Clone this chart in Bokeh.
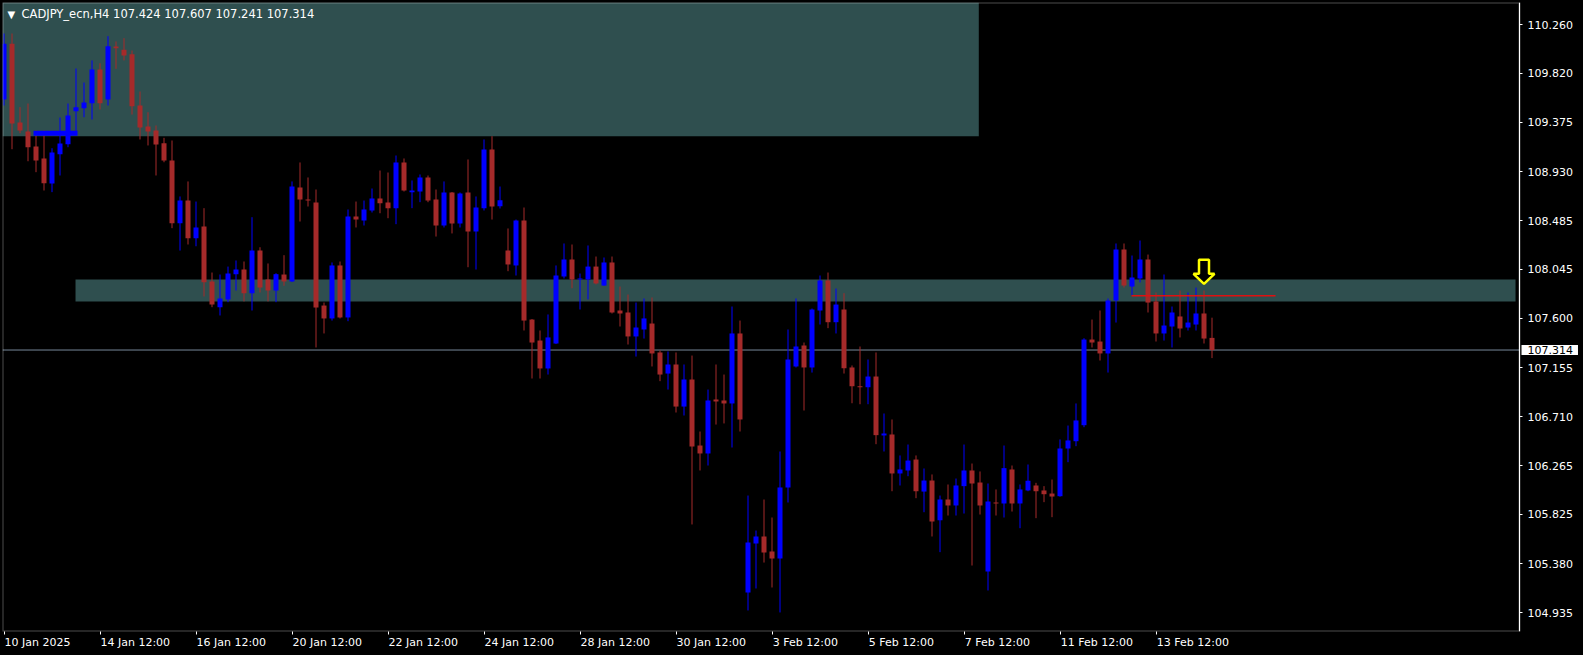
import numpy as np
from bokeh.plotting import figure
from bokeh.models import (ColumnDataSource, FixedTicker, Range1d, Label, BoxAnnotation,
                          PrintfTickFormatter, GlobalInlineStyleSheet, LinearAxis)
from bokeh.embed import file_html
from bokeh.resources import INLINE

# ---------------- data ----------------
symbol = "CADJPY_ecn,H4"

opens = [109.583, 110.088, 109.375, 109.293, 109.158, 109.049, 108.822, 109.088, 109.178, 109.477,
         109.505, 109.550, 109.855, 109.583, 110.063, 110.033, 109.994, 109.529, 109.339, 109.302,
         109.187, 109.031, 108.463, 108.668, 108.327, 108.433, 107.935, 107.702, 107.772, 108.001,
         108.043, 107.829, 108.215, 107.953, 107.853, 107.998, 107.935, 108.786, 108.677, 108.650,
         107.717, 107.600, 108.080, 107.609, 108.524, 108.487, 108.578, 108.687, 108.650, 108.599,
         109.013, 108.744, 108.750, 108.877, 108.677, 108.442, 108.741, 108.460, 108.741, 108.388,
         108.599, 109.130, 108.617, 108.215, 108.080, 108.487, 107.590, 107.400, 107.147, 107.373,
         107.980, 108.134, 107.953, 107.953, 108.070, 107.898, 108.107, 107.672, 107.654, 107.437,
         107.500, 107.554, 107.292, 107.101, 107.183, 106.802, 107.047, 106.449, 106.377, 106.866,
         106.857, 106.830, 107.464, 105.118, 105.562, 105.625, 105.489, 105.426, 106.069, 107.165,
         107.355, 107.156, 107.672, 107.944, 107.566, 107.681, 107.156, 106.986, 106.977, 107.074,
         106.540, 106.549, 106.196, 106.223, 106.322, 106.032, 106.132, 105.773, 105.960, 105.906,
         106.081, 106.223, 106.114, 105.308, 105.933, 105.924, 106.232, 105.924, 106.042, 106.087,
         106.042, 106.014, 105.990, 106.422, 106.488, 106.633, 107.409, 107.391, 107.283, 107.763,
         108.225, 107.889, 107.962, 108.134, 107.754, 107.464, 107.527, 107.618, 107.518, 107.545,
         107.645, 107.424]
highs = [110.181, 110.181, 109.514, 109.547, 109.302, 109.302, 109.142, 109.420, 109.547, 109.864,
         109.737, 109.937, 109.912, 110.157, 110.109, 110.139, 110.027, 109.656, 109.468, 109.348,
         109.236, 109.212, 108.705, 108.841, 108.659, 108.599, 108.016, 107.998, 108.070, 108.125,
         108.116, 108.517, 108.245, 108.098, 108.010, 108.173, 108.841, 109.013, 108.877, 108.768,
         107.744, 108.107, 108.116, 108.587, 108.659, 108.668, 108.777, 108.940, 108.922, 109.076,
         109.049, 108.850, 108.904, 108.895, 108.768, 108.841, 108.745, 108.741, 109.040, 108.705,
         109.221, 109.251, 108.795, 108.415, 108.496, 108.605, 107.595, 107.491, 107.636, 108.080,
         108.279, 108.270, 108.007, 108.261, 108.161, 108.152, 108.161, 107.889, 107.817, 107.744,
         107.781, 107.790, 107.310, 107.301, 107.292, 107.183, 107.264, 106.576, 106.956, 107.183,
         107.092, 107.708, 107.581, 105.996, 105.679, 105.960, 105.797, 106.395, 107.500, 107.781,
         107.382, 107.690, 107.989, 108.016, 107.871, 107.829, 107.174, 107.346, 107.228, 107.292,
         106.739, 106.685, 106.359, 106.458, 106.359, 106.241, 106.187, 105.996, 106.096, 106.150,
         106.458, 106.286, 106.214, 106.105, 106.051, 106.449, 106.268, 106.096, 106.277, 106.111,
         106.081, 106.141, 106.504, 106.630, 106.830, 107.421, 107.590, 107.672, 107.781, 108.279,
         108.279, 108.170, 108.306, 108.179, 107.835, 107.998, 107.708, 107.853, 107.835, 107.880,
         107.853, 107.607]
lows = [109.529, 109.133, 109.278, 109.024, 108.925, 108.759, 108.744, 108.895, 109.151, 109.287,
        109.423, 109.402, 109.493, 109.529, 109.861, 109.937, 109.447, 109.221, 109.167, 108.895,
        109.015, 108.418, 108.215, 108.270, 108.254, 107.799, 107.702, 107.627, 107.747, 107.853,
        107.754, 107.672, 107.835, 107.754, 107.747, 107.896, 107.930, 108.478, 108.614, 107.337,
        107.464, 107.581, 107.600, 107.575, 108.424, 108.442, 108.560, 108.553, 108.508, 108.454,
        108.750, 108.599, 108.653, 108.653, 108.342, 108.424, 108.370, 108.424, 108.064, 108.043,
        108.578, 108.496, 108.596, 108.028, 107.989, 107.491, 107.056, 107.056, 107.092, 107.368,
        107.962, 107.874, 107.681, 107.772, 107.908, 107.895, 107.645, 107.527, 107.364, 107.255,
        107.418, 107.165, 107.032, 106.956, 106.748, 106.721, 105.734, 106.223, 106.268, 106.639,
        106.649, 106.431, 106.576, 104.955, 105.154, 105.389, 105.163, 104.937, 105.933, 107.156,
        106.766, 107.110, 107.545, 107.512, 107.464, 107.101, 106.832, 106.823, 106.823, 106.461,
        106.395, 106.035, 106.087, 106.171, 105.972, 105.845, 105.625, 105.483, 105.815, 105.815,
        105.833, 105.362, 105.824, 105.136, 105.815, 105.797, 105.851, 105.700, 106.035, 105.791,
        105.936, 105.800, 105.985, 106.298, 106.443, 106.615, 107.337, 107.219, 107.110, 107.563,
        107.880, 107.808, 107.926, 107.654, 107.391, 107.400, 107.337, 107.428, 107.491, 107.491,
        107.373, 107.241]
closes = [110.088, 109.366, 109.302, 109.151, 109.031, 108.825, 109.103, 109.185, 109.438, 109.514,
          109.556, 109.855, 109.550, 110.066, 110.048, 109.982, 109.523, 109.330, 109.293, 109.176,
          109.031, 108.463, 108.668, 108.327, 108.424, 107.928, 107.726, 107.781, 108.007, 108.043,
          107.829, 108.215, 107.880, 107.853, 108.001, 107.935, 108.795, 108.677, 108.668, 107.699,
          107.600, 108.080, 107.609, 108.524, 108.496, 108.587, 108.687, 108.644, 108.599, 109.013,
          108.759, 108.759, 108.877, 108.668, 108.442, 108.741, 108.460, 108.732, 108.388, 108.605,
          109.130, 108.614, 108.671, 108.089, 108.487, 107.581, 107.382, 107.147, 107.428, 107.989,
          108.134, 107.953, 107.962, 108.070, 107.917, 108.107, 107.654, 107.645, 107.437, 107.518,
          107.600, 107.283, 107.092, 107.183, 106.802, 107.047, 106.440, 106.377, 106.857, 106.848,
          106.830, 107.464, 106.685, 105.571, 105.625, 105.480, 105.426, 106.069, 107.228, 107.346,
          107.156, 107.681, 107.944, 107.566, 107.726, 107.149, 106.986, 106.977, 107.074, 106.543,
          106.558, 106.196, 106.232, 106.313, 106.035, 106.132, 105.761, 105.960, 105.906, 106.087,
          106.223, 106.105, 105.906, 105.942, 105.924, 106.244, 105.924, 106.051, 106.130, 106.035,
          106.008, 105.987, 106.422, 106.495, 106.676, 107.409, 107.382, 107.283, 107.763, 108.225,
          107.898, 107.971, 108.134, 107.744, 107.464, 107.536, 107.654, 107.509, 107.563, 107.645,
          107.418, 107.314]

date_ticks = [0, 12, 24, 36, 48, 60, 72, 84, 96, 108, 120, 132, 144]
date_labels = ["10 Jan 2025", "14 Jan 12:00", "16 Jan 12:00", "20 Jan 12:00", "22 Jan 12:00",
               "24 Jan 12:00", "28 Jan 12:00", "30 Jan 12:00", "3 Feb 12:00", "5 Feb 12:00",
               "7 Feb 12:00", "11 Feb 12:00", "13 Feb 12:00"]
price_ticks = [110.260, 109.820, 109.375, 108.930, 108.485, 108.045, 107.600,
               107.155, 106.710, 106.265, 105.825, 105.380, 104.935]

# drawn objects (price levels / bar positions)
supply_zone_bottom = 109.251
supply_zone_end_bar = 121.85
level_zone_low, level_zone_high = 107.754, 107.953
level_zone_bars = [8.94, 188.94]
trend_line_price = 107.805
trend_line_bars = [140.94, 158.94]
marker_line_price = 109.277
marker_line_bars = [3.69, 9.19]
arrow_bar, arrow_tip_price = 150, 107.914

# ---------------- layout constants ----------------
W, H = 1578, 652
LEFT, TOP = 2, 2
CHART_W = 1517                      # price chart area (left of the price scale)
FRAME_W, FRAME_H = W - LEFT, 629    # drawing frame also holds the price scale
BOTTOM = H - TOP - FRAME_H
PX_PER_BAR = 8.0
X_START = -0.1875
X_END = X_START + FRAME_W / PX_PER_BAR
X_SCALE = X_START + CHART_W / PX_PER_BAR      # where the price scale sits
PX_PER_PRICE = 110.4
Y_TOP = 110.4619
Y_BOT = Y_TOP - FRAME_H / PX_PER_PRICE

FONT = "DejaVu Sans"
BULL, BEAR = "#0000FF", "#A52A2A"
ZONE = "#2F4F4F"

p = figure(width=W, height=H, output_backend="svg", toolbar_location=None,
           x_range=Range1d(X_START, X_END), y_range=Range1d(Y_BOT, Y_TOP),
           y_axis_location=None, min_border_left=LEFT, min_border_top=TOP,
           min_border_right=0, min_border_bottom=BOTTOM)
p.stylesheets = [GlobalInlineStyleSheet(css="body { background: #000000; }")]
p.background_fill_color = "black"
p.border_fill_color = "black"
p.outline_line_color = None
p.grid.visible = False

# zones
p.add_layout(BoxAnnotation(bottom=supply_zone_bottom, right=supply_zone_end_bar,
                           fill_color=ZONE, fill_alpha=1, line_color=None, level="underlay"))
p.add_layout(BoxAnnotation(bottom=level_zone_low, top=level_zone_high,
                           left=level_zone_bars[0], right=level_zone_bars[1],
                           fill_color=ZONE, fill_alpha=1, line_color=None, level="underlay"))
# last price line across the chart area
p.line([X_START, X_SCALE], [closes[-1]] * 2, line_color="#778899", line_width=1)

# candles
o = np.array(opens); h = np.array(highs); l = np.array(lows); c = np.array(closes)
idx = np.arange(len(o))
top = np.maximum(o, c)
bot = np.minimum(np.minimum(o, c), top - 1.0 / PX_PER_PRICE)
bull = c >= o
for mask, col in ((bull, BULL), (~bull, BEAR)):
    src = ColumnDataSource(dict(x=idx[mask], h=h[mask], l=l[mask], t=top[mask], b=bot[mask]))
    p.segment(x0="x", y0="l", x1="x", y1="h", source=src, line_color=col, line_width=1)
    p.vbar(x="x", width=5 / PX_PER_BAR, top="t", bottom="b", source=src,
           fill_color=col, line_color=None)

# lines
p.line(marker_line_bars, [marker_line_price] * 2, line_color=BULL, line_width=5)
p.line(trend_line_bars, [trend_line_price] * 2, line_color="#E01010", line_width=1.5)

# arrow (shape offsets in pixels relative to its tip)
shape = [(0, 0), (-10.5, 10), (-5, 10), (-5, 24), (5, 24), (5, 10), (10.5, 10)]
ax = [arrow_bar + dx / PX_PER_BAR for dx, dy in shape]
ay = [arrow_tip_price + dy / PX_PER_PRICE for dx, dy in shape]
p.patch(ax, ay, fill_color="black", line_color="#FFFF00", line_width=2.5)

# chart border (left / top / bottom edges, right edge = price scale line)
p.add_layout(BoxAnnotation(right=X_SCALE, fill_color=None, line_color="white",
                           line_width=2, level="overlay"))

# price scale
ya = LinearAxis(fixed_location=X_SCALE, ticker=FixedTicker(ticks=price_ticks),
                formatter=PrintfTickFormatter(format="%.3f"))
ya.axis_line_color = "white"
ya.major_tick_line_color = "white"
ya.major_tick_in = 0
ya.major_tick_out = 3
ya.minor_tick_line_color = None
ya.major_label_standoff = 5
ya.major_label_text_color = "white"
ya.major_label_text_font = FONT
ya.major_label_text_font_size = "11px"
p.add_layout(ya, "right")

# last price tag
p.add_layout(Label(x=X_SCALE, y=closes[-1], x_offset=2, text=f"{closes[-1]:.3f}",
                   text_baseline="middle", text_align="left", text_color="black",
                   text_font=FONT, text_font_size="11px", background_fill_color="white",
                   padding=dict(left=6, right=5, top=1, bottom=1)))

# x axis: tick marks at bars (minor ticks), labels left-aligned after the tick
CW = {"0": 7.0, "1": 7.0, "2": 7.0, "3": 7.0, "4": 7.0, "5": 7.0, "6": 7.0, "7": 7.0,
      "8": 7.0, "9": 7.0, " ": 3.5, ":": 3.7, "J": 3.2, "a": 6.7, "n": 7.0, "F": 6.3,
      "e": 6.8, "b": 7.0}
def text_w(s):
    return sum(CW.get(ch, 6.5) for ch in s)
label_pos = [round(b + (0.5 + text_w(t) / 2) / PX_PER_BAR, 3) for b, t in zip(date_ticks, date_labels)]
xa = p.xaxis[0]
xa.ticker = FixedTicker(ticks=label_pos, minor_ticks=date_ticks)
xa.major_label_overrides = {pos: t for pos, t in zip(label_pos, date_labels)}
xa.axis_line_color = None
xa.major_tick_line_color = None
xa.major_tick_in = 0
xa.major_tick_out = 3
xa.minor_tick_line_color = "white"
xa.minor_tick_in = 0
xa.minor_tick_out = 3
xa.major_label_standoff = 1
xa.major_label_text_color = "white"
xa.major_label_text_font = FONT
xa.major_label_text_font_size = "11px"

# header
title = f"{symbol}  {opens[-1]:.3f} {highs[-1]:.3f} {lows[-1]:.3f} {closes[-1]:.3f}"
p.add_layout(Label(x=X_START, y=Y_TOP, x_offset=5, y_offset=-6, text="\u25bc",
                   text_baseline="top", text_color="white", text_font=FONT, text_font_size="10px"))
p.add_layout(Label(x=X_START, y=Y_TOP, x_offset=19, y_offset=-4, text=title,
                   text_baseline="top", text_color="white", text_font=FONT, text_font_size="11.5px"))

open("out.html", "w").write(file_html(p, INLINE))
